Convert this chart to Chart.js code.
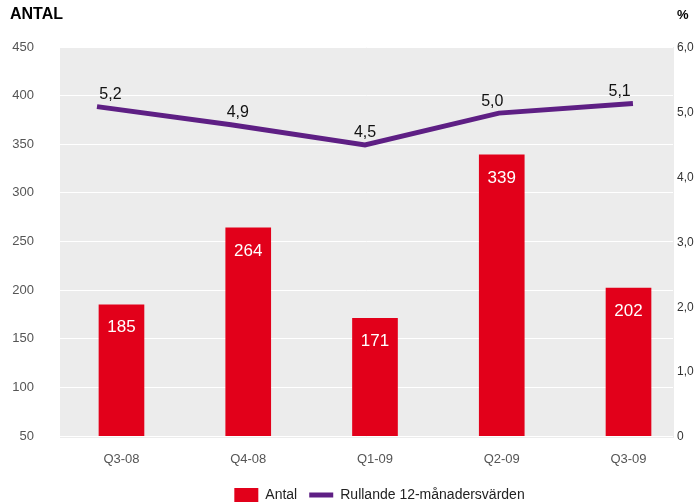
<!DOCTYPE html>
<html>
<head>
<meta charset="utf-8">
<script src="https://cdn.jsdelivr.net/npm/chart.js@4/dist/chart.umd.min.js"></script>
<style>
  html, body { margin: 0; padding: 0; background: #fff; }
  #wrap { width: 695px; height: 503px; }
</style>
</head>
<body>
<div id="wrap"><canvas id="diagram" width="695" height="503"></canvas></div>
<script>
// Data
const kvartal = ['Q3-08', 'Q4-08', 'Q1-09', 'Q2-09', 'Q3-09'];
const antal = [185, 264, 171, 339, 202];
const rullande = [5.08, 4.80, 4.49, 4.98, 5.13];
const rullandeEtiketter = ['5,2', '4,9', '4,5', '5,0', '5,1'];
const vansterTicks = [50, 450, 50];   // min, max, steg
const hogerTicks = [0, 6, 1];

const rod = '#e2001a';
const lila = '#5e1f84';
const typsnitt = '"Liberation Sans", Arial, sans-serif';

// Grå bakgrund i diagramytan
const bakgrund = {
    id: 'bakgrund',
    beforeDraw(chart) {
        const { ctx, chartArea: a } = chart;
        ctx.save();
        ctx.fillStyle = '#ececec';
        ctx.fillRect(a.left, a.top, a.right - a.left + 1, a.bottom - a.top + 2);
        ctx.restore();
    }
};

// Värdeetiketter på staplar och linje
const etiketter = {
    id: 'etiketter',
    afterDatasetsDraw(chart) {
        const ctx = chart.ctx;
        ctx.save();
        ctx.textAlign = 'center';
        ctx.textBaseline = 'middle';

        const staplar = chart.getDatasetMeta(0).data;
        ctx.fillStyle = '#ffffff';
        ctx.font = '17px ' + typsnitt;
        staplar.forEach(function(el, i) {
            ctx.fillText(String(antal[i]), el.x, el.y + 23);
        });

        const punkter = chart.getDatasetMeta(1).data;
        const mitt = (chart.chartArea.left + chart.chartArea.right) / 2;
        ctx.fillStyle = '#111111';
        ctx.font = '16px ' + typsnitt;
        punkter.forEach(function(el, i) {
            const x = el.x + (mitt - el.x) * 0.05;
            ctx.fillText(rullandeEtiketter[i], x, el.y - 12);
        });
        ctx.restore();
    }
};

// Rubriker över axlarna
const rubriker = {
    id: 'rubriker',
    afterDraw(chart) {
        const ctx = chart.ctx;
        ctx.save();
        ctx.fillStyle = '#000';
        ctx.textBaseline = 'middle';
        ctx.textAlign = 'left';
        ctx.font = 'bold 16px ' + typsnitt;
        ctx.fillText('ANTAL', 10, 15);
        ctx.font = 'bold 13px ' + typsnitt;
        ctx.fillText('%', 677, 15);
        ctx.restore();
    }
};

// Flytta förklaringen lite åt höger och nedåt
const flyttaLegend = {
    id: 'flyttaLegend',
    afterLayout(chart) {
        const lg = chart.legend;
        lg.left += 32; lg.right += 32;
        lg.top += 9; lg.bottom += 9;
    }
};

const ctx = document.getElementById('diagram').getContext('2d');
new Chart(ctx, {
    data: {
        datasets: [{
            type: 'bar',
            label: 'Antal',
            data: antal.map((v, i) => ({ x: i, y: v })),
            backgroundColor: rod,
            borderWidth: 0,
            barThickness: 45,
            grouped: false,
            pointStyle: 'rect',
            xAxisID: 'x',
            yAxisID: 'y',
            order: 1
        }, {
            type: 'line',
            label: 'Rullande 12-månadersvärden',
            data: rullande.map((v, i) => ({ x: i, y: v })),
            borderColor: lila,
            backgroundColor: lila,
            borderWidth: 5,
            pointRadius: 0,
            pointStyle: 'line',
            tension: 0,
            xAxisID: 'x2',
            yAxisID: 'y1',
            order: 0
        }]
    },
    options: {
        responsive: false,
        animation: false,
        layout: { padding: { top: 47, left: 0, right: 0, bottom: 0 } },
        scales: {
            x: {
                type: 'linear',
                offset: false,
                min: -0.485,
                max: 4.351,
                grid: { display: false, drawTicks: false },
                border: { display: false },
                ticks: {
                    stepSize: 1,
                    includeBounds: false,
                    padding: 16,
                    color: '#555',
                    font: { family: typsnitt, size: 13 },
                    callback: function(v) { return Number.isInteger(v) ? kvartal[v] : ''; }
                },
                afterFit: function(s) { s.height = 31; }
            },
            x2: {
                type: 'linear',
                display: false,
                offset: false,
                min: -0.276,
                max: 4.299
            },
            y: {
                position: 'left',
                min: vansterTicks[0],
                max: vansterTicks[1],
                grid: { color: '#ffffff', lineWidth: 1, drawTicks: false },
                border: { display: false },
                ticks: {
                    stepSize: vansterTicks[2],
                    padding: 26,
                    color: '#555',
                    font: { family: typsnitt, size: 13 }
                },
                afterFit: function(s) { s.width = 60; }
            },
            y1: {
                position: 'right',
                min: hogerTicks[0],
                max: hogerTicks[1],
                grid: { display: false, drawTicks: false },
                border: { display: false },
                ticks: {
                    stepSize: hogerTicks[2],
                    padding: 4,
                    labelOffset: 1,
                    color: '#333',
                    font: { family: typsnitt, size: 12 },
                    callback: function(v) { return v === 0 ? '0' : v.toFixed(1).replace('.', ','); }
                },
                afterFit: function(s) { s.width = 22; }
            }
        },
        plugins: {
            legend: {
                position: 'bottom',
                labels: {
                    usePointStyle: true,
                    pointStyleWidth: 24,
                    padding: 12,
                    color: '#222',
                    font: { family: typsnitt, size: 14 },
                    sort: function(a, b) { return a.datasetIndex - b.datasetIndex; }
                }
            },
            tooltip: { enabled: false }
        }
    },
    plugins: [bakgrund, etiketter, rubriker, flyttaLegend]
});
</script>
</body>
</html>
